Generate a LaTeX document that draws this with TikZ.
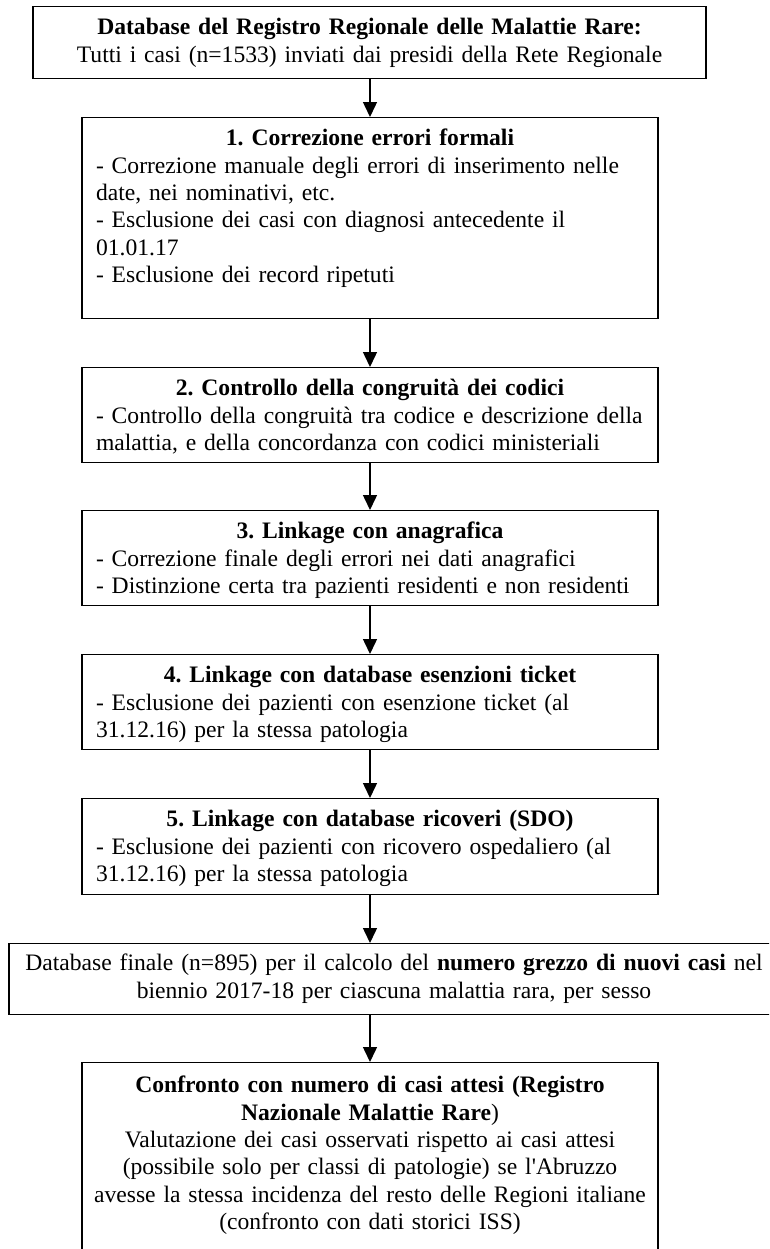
\documentclass[tikz,border=0pt]{standalone}
\usepackage{fontspec}
\setmainfont{Liberation Serif}
\newfontfamily\plainfont{Liberation Serif}
\usetikzlibrary{arrows.meta}
\newcommand\fsz{\fontsize{17.7pt}{20.5pt}\selectfont\frenchspacing}
\tikzset{
  box/.style={draw, line width=1.1pt, inner xsep=10.5pt, inner ysep=0pt,
    font=\fsz, anchor=north},
  lbox/.style={box, align=left},
  cbox/.style={box, align=center},
  arr/.style={line width=1.1pt, -{Triangle[length=11.25pt,width=10.5pt]}},
}
\begin{document}
\begin{tikzpicture}[x=0.75pt,y=-0.75pt]
\clip (0,0) rectangle (769,1249);
% top box
\node[cbox, text width=483.75pt, text height=21pt, text depth=33pt] (b0) at (369.5,6)
  {\textbf{Database del Registro Regionale delle Malattie Rare:}\\
   Tutti i casi (n=1533) inviati dai presidi della Rete Regionale};
% step 1
\node[lbox, text width=411pt, text height=21pt, text depth=129.75pt] (b1) at (370,117)
  {\makebox[\linewidth]{\textbf{1. Correzione errori formali}}\\
   - Correzione manuale degli errori di inserimento nelle\\
   date, nei nominativi, etc.\\
   - Esclusione dei casi con diagnosi antecedente il\\
   01.01.17\\
   - Esclusione dei record ripetuti};
% step 2
\node[lbox, text width=411pt, text height=21pt, text depth=50.25pt] (b2) at (370,367)
  {\makebox[\linewidth]{\textbf{2. Controllo della congruità dei codici}}\\
   - Controllo della congruità tra codice e descrizione della\\
   malattia, e della concordanza con codici ministeriali};
% step 3
\node[lbox, text width=411pt, text height=21pt, text depth=50.25pt] (b3) at (370,510)
  {\makebox[\linewidth]{\textbf{3. Linkage con anagrafica}}\\
   - Correzione finale degli errori nei dati anagrafici\\
   - Distinzione certa tra pazienti residenti e non residenti};
% step 4
\node[lbox, text width=411pt, text height=21pt, text depth=50.25pt] (b4) at (370,654)
  {\makebox[\linewidth]{\textbf{4. Linkage con database esenzioni ticket}}\\
   - Esclusione dei pazienti con esenzione ticket (al\\
   31.12.16) per la stessa patologia};
% step 5
\node[lbox, text width=411pt, text height=21pt, text depth=51pt] (b5) at (370,798)
  {\makebox[\linewidth]{\textbf{5. Linkage con database ricoveri (SDO)}}\\
   - Esclusione dei pazienti con ricovero ospedaliero (al\\
   31.12.16) per la stessa patologia};
% final database
\node[cbox, text width=556.5pt, text height=20.25pt, text depth=33pt] (b6) at (394,943)
  {Database finale (n=895) per il calcolo del \textbf{numero grezzo di nuovi casi} nel\\
   biennio 2017-18 per ciascuna malattia rara, per sesso};
% comparison
\node[cbox, inner xsep=3pt, text width=426pt, text height=22.5pt, text depth=133.5pt] (b7) at (370,1062)
  {\textbf{Confronto con numero di casi attesi (Registro}\\
   \textbf{Nazionale Malattie Rare})\\
   Valutazione dei casi osservati rispetto ai casi attesi\\
   (possibile solo per classi di patologie) se l{\plainfont '}Abruzzo\\
   avesse la stessa incidenza del resto delle Regioni italiane\\
   (confronto con dati storici ISS)};
% connectors
\draw[arr] (b0.south -| b1.north) -- (b1.north);
\draw[arr] (b1.south) -- (b2.north);
\draw[arr] (b2.south) -- (b3.north);
\draw[arr] (b3.south) -- (b4.north);
\draw[arr] (b4.south) -- (b5.north);
\draw[arr] (b5.south) -- (b5.south |- b6.north);
\draw[arr] (b6.south -| b7.north) -- (b7.north);
\end{tikzpicture}
\end{document}
